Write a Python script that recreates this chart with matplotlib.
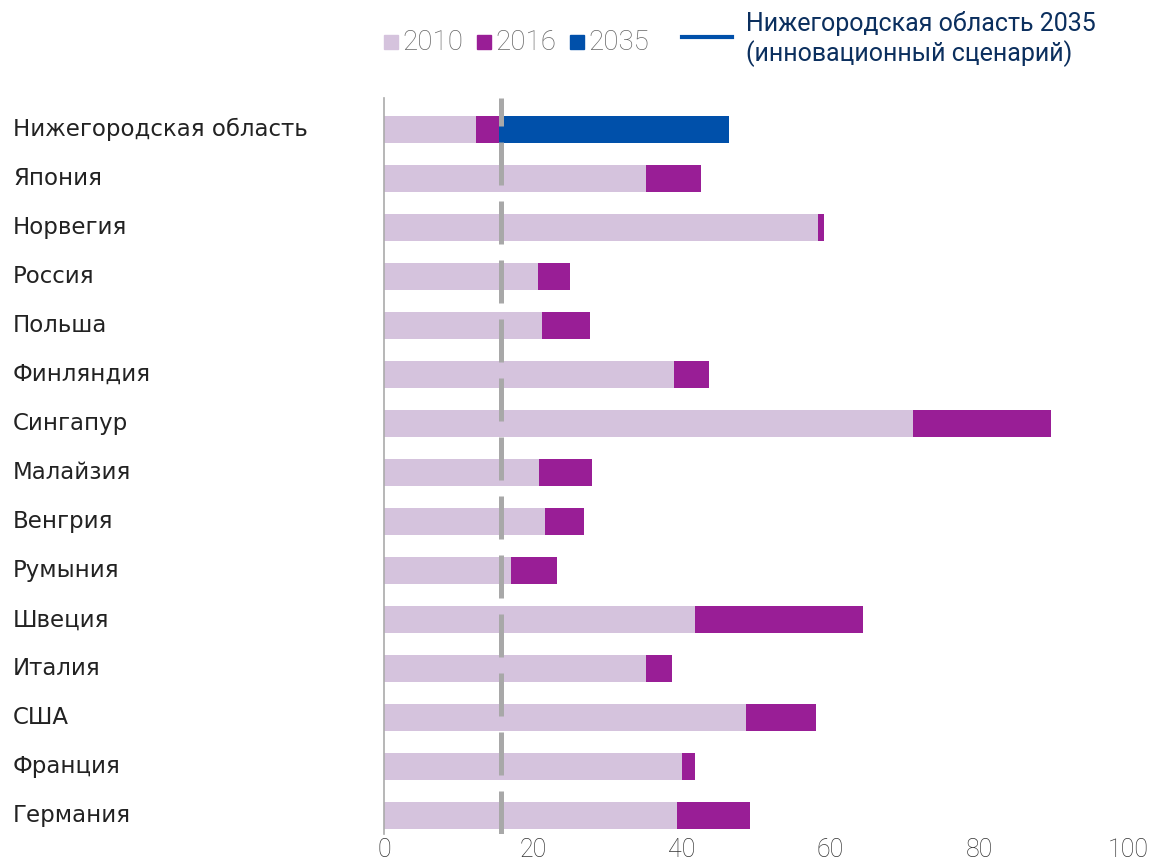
import numpy as np
import matplotlib.pyplot as plt
from matplotlib.patches import Rectangle
from matplotlib.lines import Line2D

# data
countries = ["Нижегородская область", "Япония", "Норвегия", "Россия", "Польша",
             "Финляндия", "Сингапур", "Малайзия", "Венгрия", "Румыния",
             "Швеция", "Италия", "США", "Франция", "Германия"]
v2010 = [12.4, 35.2, 58.3, 20.7, 21.2, 39.0, 71.1, 20.8, 21.6, 17.1, 41.8, 35.2, 48.7, 40.1, 39.4]
v2016 = [15.5, 42.6, 59.2, 25.0, 27.7, 43.7, 89.7, 28.0, 26.9, 23.3, 64.4, 38.7, 58.1, 41.8, 49.2]
v2035 = [46.4, 0, 0, 0, 0, 0, 0, 0, 0, 0, 0, 0, 0, 0, 0]
ref_line = 15.7
xticks = [0, 20, 40, 60, 80, 100]

c2010 = "#D5C3DD"
c2016 = "#991E96"
c2035 = "#0050AA"
cgray = "#A8A8A8"

plt.rcParams["font.family"] = ["Roboto", "DejaVu Sans"]

fig = plt.figure(figsize=(11.51, 8.65), dpi=100)
ax = fig.add_axes([0.3336, 0.036, 0.6464, 0.851])

y = np.arange(len(countries))
d2016 = np.array(v2016) - np.array(v2010)
d2035 = np.where(np.array(v2035) > 0, np.array(v2035) - np.array(v2016), 0)
h = 0.55
ax.barh(y, v2010, height=h, color=c2010, zorder=2)
ax.barh(y, d2016, left=v2010, height=h, color=c2016, zorder=2)
ax.barh(y, d2035, left=v2016, height=h, color=c2035, zorder=2)

ax.axvline(ref_line, color=cgray, lw=3.6, dashes=(8.6, 3.2),
           dash_capstyle="butt", zorder=3)

ax.set_xlim(0, 100)
ax.set_ylim(len(countries) - 1 + 0.37, -0.65)
for s in ["top", "right", "bottom"]:
    ax.spines[s].set_visible(False)
ax.spines["left"].set_color("#AAAAAA")
ax.spines["left"].set_linewidth(1.2)

ax.set_xticks(xticks)
ax.set_xticklabels([str(t) for t in xticks], fontsize=18, color="#333333",
                   fontweight="light")
ax.tick_params(axis="x", length=0, pad=3)
ax.set_yticks(y)
ax.set_yticklabels([])
ax.tick_params(axis="y", length=0)
for yi, name in zip(y, countries):
    ax.text(-371 / 7.44, yi, name, ha="left", va="center", fontsize=16.5,
            color="#222222", family=["DejaVu Sans"])

# legend
items = [(384, c2010, "2010"), (477, c2016, "2016"), (570, c2035, "2035")]
for x0, col, lab in items:
    fig.patches.append(Rectangle((x0 / 1151, 1 - 49 / 865), 14 / 1151, 14 / 865,
                                 color=col, transform=fig.transFigure))
    fig.text((x0 + 18) / 1151, 1 - 43 / 865, lab, fontsize=20, color="#666666",
             ha="left", va="center", fontweight="light")
fig.lines.append(Line2D([682 / 1151, 732 / 1151], [1 - 37 / 865, 1 - 37 / 865],
                        color=c2035, lw=3, transform=fig.transFigure))
fig.text(746 / 1151, 1 - 24 / 865, "Нижегородская область 2035", fontsize=18,
         color="#0B2F5E", ha="left", va="center")
fig.text(746 / 1151, 1 - 54 / 865, "(инновационный сценарий)", fontsize=18,
         color="#0B2F5E", ha="left", va="center")

fig.savefig("out.png", dpi=100)
